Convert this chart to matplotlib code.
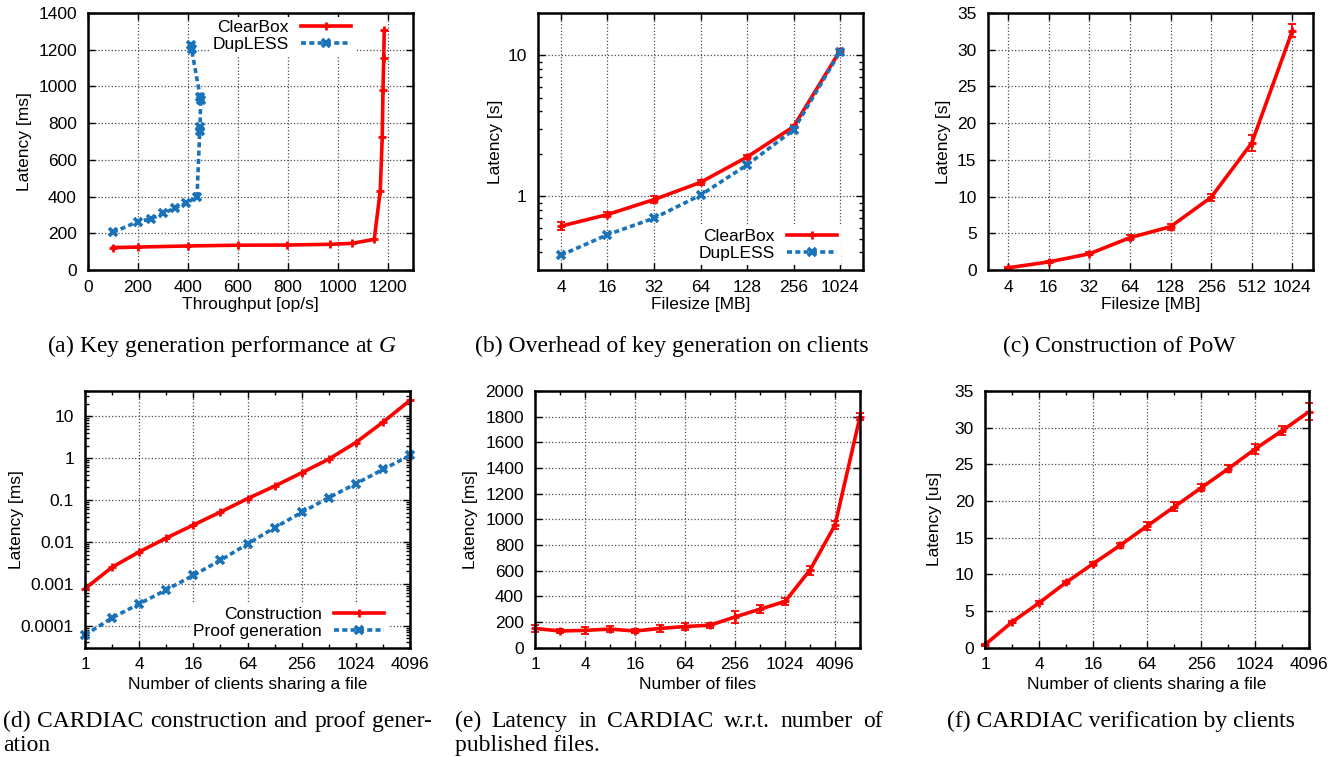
import numpy as np
import matplotlib
matplotlib.use('Agg')
import matplotlib.pyplot as plt
from matplotlib.ticker import FixedLocator, FuncFormatter, LogLocator, MultipleLocator

plt.rcParams['font.family'] = ['Liberation Sans', 'DejaVu Sans']
plt.rcParams['font.size'] = 12.5
plt.rcParams['mathtext.fontset'] = 'custom'
plt.rcParams['mathtext.rm'] = 'Liberation Serif'
plt.rcParams['mathtext.it'] = 'Liberation Serif:italic'

RED = '#ff0000'
BLUE = '#1a72b8'

# (a) key generation performance at G
kg_cb_tput = [100, 200, 400, 600, 796, 969, 1056, 1145, 1169, 1177, 1180, 1183, 1185]
kg_cb_lat = [122, 125, 131, 135, 136, 140, 145, 167, 431, 727, 982, 1155, 1305]
kg_dl_tput = [100, 200, 252, 300, 347, 393, 436, 447, 448, 451, 449, 414, 413]
kg_dl_lat = [205, 264, 278, 309, 336, 364, 398, 758, 780, 928, 942, 1205, 1228]

# (b) overhead of key generation on clients
sizes_b = ['4', '16', '32', '64', '128', '256', '1024']
cb_b = [0.614, 0.743, 0.948, 1.256, 1.90, 3.12, 10.8]
cb_b_err = [0.04, 0.035, 0.05, 0.06, 0.07, 0.08, 0.3]
dl_b = [0.382, 0.534, 0.70, 1.02, 1.67, 2.96, 10.6]

# (c) construction of PoW
sizes_c = ['4', '16', '32', '64', '128', '256', '512', '1024']
pow_c = [0.3, 1.1, 2.2, 4.4, 5.9, 9.9, 17.3, 32.6]
pow_c_err = [0.1, 0.15, 0.2, 0.3, 0.4, 0.5, 1.1, 0.9]

# (d) CARDIAC construction and proof generation
clients = [1, 2, 4, 8, 16, 32, 64, 128, 256, 512, 1024, 2048, 4096]
constr_d = [7.7e-4, 2.5e-3, 5.8e-3, 0.0124, 0.0254, 0.0518, 0.108, 0.215, 0.447, 0.946, 2.36, 7.2, 24]
proof_d = [6.0e-5, 1.55e-4, 3.34e-4, 7.2e-4, 1.6e-3, 3.66e-3, 8.95e-3, 0.0219, 0.0508, 0.114, 0.245, 0.537, 1.16]

# (e) latency w.r.t. number of published files
nfiles = [1, 2, 4, 8, 16, 32, 64, 128, 256, 512, 1024, 2048, 4096, 8192]
pub_lat = [150, 130, 135, 145, 130, 150, 165, 175, 240, 300, 360, 605, 955, 1800]
pub_err = [25, 15, 25, 25, 15, 25, 30, 20, 45, 30, 30, 35, 30, 25]

# (f) verification by clients
ver_f = [0.4, 3.5, 6.1, 8.9, 11.45, 13.95, 16.6, 19.2, 21.8, 24.4, 27.1, 29.6, 32.2]
ver_f_err = [0.15, 0.2, 0.2, 0.25, 0.3, 0.3, 0.5, 0.6, 0.5, 0.5, 0.7, 0.6, 1.1]

W, H = 1343, 757
fig = plt.figure(figsize=(W / 100, H / 100), dpi=100)


def box(x0, x1, y0, y1):
    return [x0 / W, 1 - y1 / H, (x1 - x0) / W, (y1 - y0) / H]


def style(ax, ylab_x, xlab):
    for s in ax.spines.values():
        s.set_linewidth(1.8)
    ax.tick_params(which='both', direction='in', top=True, right=True, width=1.0)
    ax.tick_params(which='major', length=5, pad=7)
    ax.tick_params(which='minor', length=3)
    ax.tick_params(axis='y', pad=8)
    ax.grid(True, which='major', linestyle=':', color='0.3', linewidth=0.9)
    ax.set_axisbelow(True)
    ax.set_ylabel('Latency' + ylab_x[1])
    ax.yaxis.set_label_coords(ylab_x[0], 0.5)
    ax.set_xlabel(xlab)
    ax.xaxis.set_label_coords(0.5, -0.105)


def legend(ax, anchor, loc):
    leg = ax.legend(loc=loc, bbox_to_anchor=anchor, markerfirst=False, frameon=True,
                    fancybox=False, edgecolor='none', framealpha=1.0, handlelength=2.9,
                    handletextpad=0.7, borderaxespad=0, borderpad=0.2, labelspacing=0.1)
    leg.get_frame().set_linewidth(0)


def errs(ax, x, y, e):
    ax.errorbar(x, y, yerr=e, fmt='none', ecolor=RED, capsize=3, elinewidth=1.3,
                capthick=1.3, clip_on=False)


cb_kw = dict(color=RED, lw=2.6, marker='+', ms=6, mew=2)
dl_kw = dict(color=BLUE, lw=2.6, ls=(0, (1.4, 0.9)), marker='x', ms=6, mew=2.6)

# (a)
ax = fig.add_axes(box(88, 413, 13, 270))
ax.plot(kg_cb_tput, kg_cb_lat, label='ClearBox', **cb_kw)
ax.plot(kg_dl_tput, kg_dl_lat, label='DupLESS', **dl_kw)
ax.set_xlim(0, 1300)
ax.set_ylim(0, 1400)
ax.xaxis.set_major_locator(MultipleLocator(200))
ax.yaxis.set_major_locator(MultipleLocator(200))
style(ax, (-0.172, ' [ms]'), 'Throughput [op/s]')
legend(ax, (0.82, 0.985), 'upper right')

# (b)
ax = fig.add_axes(box(537.7, 863.3, 13, 270))
xb = np.arange(len(sizes_b))
ax.plot(xb, cb_b, label='ClearBox', **cb_kw)
errs(ax, xb, cb_b, cb_b_err)
ax.plot(xb, dl_b, label='DupLESS', **dl_kw)
ax.set_yscale('log')
ax.set_xlim(-0.5, len(sizes_b) - 0.5)
ax.set_ylim(0.3, 20)
ax.set_xticks(xb)
ax.set_xticklabels(sizes_b)
ax.yaxis.set_major_locator(FixedLocator([1, 10]))
ax.yaxis.set_major_formatter(FuncFormatter(lambda v, p: '%g' % v))
ax.yaxis.set_minor_locator(LogLocator(subs=np.arange(2, 10)))
ax.yaxis.set_minor_formatter(FuncFormatter(lambda v, p: ''))
style(ax, (-0.1075, ' [s]'), 'Filesize [MB]')
legend(ax, (0.93, 0.02), 'lower right')

# (c)
ax = fig.add_axes(box(987.7, 1312.7, 13, 270))
xc = np.arange(len(sizes_c))
ax.plot(xc, pow_c, **cb_kw)
errs(ax, xc, pow_c, pow_c_err)
ax.set_xlim(-0.5, len(sizes_c) - 0.5)
ax.set_ylim(0, 35)
ax.set_xticks(xc)
ax.set_xticklabels(sizes_c)
ax.yaxis.set_major_locator(MultipleLocator(5))
style(ax, (-0.113, ' [s]'), 'Filesize [MB]')


# shared x ticks for doubling axes
def doubling_axis(ax, hi):
    ax.set_xscale('log', base=2)
    ax.set_xlim(1, hi)
    ax.xaxis.set_major_locator(FixedLocator([1, 4, 16, 64, 256, 1024, 4096]))
    ax.xaxis.set_major_formatter(FuncFormatter(lambda v, p: '%d' % v))
    ax.xaxis.set_minor_locator(FixedLocator([2, 8, 32, 128, 512, 2048, 8192]))
    ax.xaxis.set_minor_formatter(FuncFormatter(lambda v, p: ''))


# (d)
ax = fig.add_axes(box(85, 410, 391, 647.7))
ax.plot(clients, constr_d, label='Construction', clip_on=False, **cb_kw)
ax.plot(clients, proof_d, label='Proof generation', clip_on=False, **dl_kw)
ax.set_yscale('log')
ax.set_ylim(3e-5, 40)
ax.yaxis.set_major_locator(FixedLocator([1e-4, 1e-3, 1e-2, 0.1, 1, 10]))
ax.yaxis.set_major_formatter(FuncFormatter(lambda v, p: '%g' % v))
ax.yaxis.set_minor_locator(LogLocator(subs=np.arange(2, 10)))
ax.yaxis.set_minor_formatter(FuncFormatter(lambda v, p: ''))
doubling_axis(ax, 4096)
style(ax, (-0.188, ' [ms]'), 'Number of clients sharing a file')
ax.xaxis.set_label_coords(0.5, -0.115)
legend(ax, (0.932, 0.02), 'lower right')

# (e)
ax = fig.add_axes(box(535, 860, 391, 647.7))
ax.plot(nfiles, pub_lat, clip_on=False, **cb_kw)
errs(ax, nfiles, pub_lat, pub_err)
ax.set_ylim(0, 2000)
ax.yaxis.set_major_locator(MultipleLocator(200))
doubling_axis(ax, 8192)
style(ax, (-0.174, ' [ms]'), 'Number of files')
ax.xaxis.set_label_coords(0.5, -0.115)

# (f)
ax = fig.add_axes(box(985, 1309.3, 391, 647.7))
ax.plot(clients, ver_f, clip_on=False, **cb_kw)
errs(ax, clients, ver_f, ver_f_err)
ax.set_ylim(0, 35)
ax.yaxis.set_major_locator(MultipleLocator(5))
doubling_axis(ax, 4096)
style(ax, (-0.132, ' [us]'), 'Number of clients sharing a file')
ax.xaxis.set_label_coords(0.5, -0.115)

# captions
cap = dict(family='Liberation Serif', fontsize=17, va='baseline')


def justified(words, x0, x1, y):
    # spread the words of one caption line between x0 and x1 (pixels)
    r = fig.canvas.get_renderer()
    arts = [fig.text(0, 1 - y / H, w, **cap) for w in words]
    widths = [a.get_window_extent(r).width for a in arts]
    gap = (x1 - x0 - sum(widths)) / (len(words) - 1)
    x = x0
    for a, w in zip(arts, widths):
        a.set_x(x / W)
        x += w + gap


fig.text(47 / W, 1 - 352 / H, '(a) Key generation performance at $G$', **cap)
fig.text(475 / W, 1 - 352 / H, '(b) Overhead of key generation on clients', **cap)
fig.text(1003 / W, 1 - 352 / H, '(c) Construction of PoW', **cap)
justified('(d) CARDIAC construction and proof gener-'.split(), 3, 432, 727)
fig.text(3 / W, 1 - 751 / H, 'ation', **cap)
justified('(e) Latency in CARDIAC w.r.t. number of'.split(), 455, 883, 727)
fig.text(455 / W, 1 - 751 / H, 'published files.', **cap)
fig.text(947 / W, 1 - 727 / H, '(f) CARDIAC verification by clients', **cap)

fig.savefig('out.png', dpi=100)
